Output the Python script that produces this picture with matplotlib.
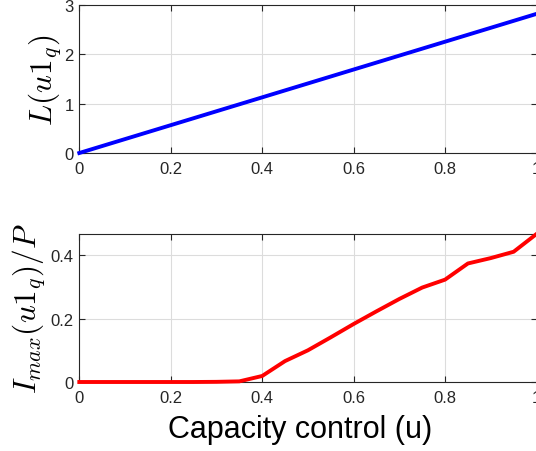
import numpy as np
import matplotlib
matplotlib.use('Agg')
from matplotlib import pyplot as plt

plt.rcParams['font.family'] = ['Liberation Sans', 'DejaVu Sans']
plt.rcParams['mathtext.fontset'] = 'cm'

# capacity control values
u = [0.0, 0.05, 0.1, 0.15, 0.2, 0.25, 0.3, 0.35, 0.4, 0.45, 0.5,
     0.55, 0.6, 0.65, 0.7, 0.75, 0.8, 0.85, 0.9, 0.95, 1.0]
# L(u 1_q)
L_u = [0.0, 0.141, 0.282, 0.423, 0.564, 0.705, 0.846, 0.987, 1.128, 1.269, 1.41,
       1.551, 1.692, 1.833, 1.974, 2.115, 2.256, 2.397, 2.538, 2.679, 2.82]
# I_max(u 1_q) / P
I_max = [0.0, 0.0, 0.0, 0.0, 0.0, 0.0, 0.0005, 0.002, 0.019, 0.066, 0.1,
         0.141, 0.183, 0.223, 0.262, 0.298, 0.323, 0.374, 0.391, 0.411, 0.467]

xticks = [0, 0.2, 0.4, 0.6, 0.8, 1]
xticklabels = ['0', '0.2', '0.4', '0.6', '0.8', '1']

W, H = 536, 452
fig = plt.figure(figsize=(W/100, H/100), dpi=100)
left, right = 79.3, 536.5
ax1 = fig.add_axes([left/W, 1 - 154/H, (right - left)/W, 148/H])
ax2 = fig.add_axes([left/W, 1 - 383/H, (right - left)/W, 148/H])

def style(ax):
    ax.set_xlim(0, 1)
    ax.set_xticks(xticks)
    ax.set_xticklabels(xticklabels)
    ax.grid(True, color='#dcdcdc', linewidth=0.8)
    ax.set_axisbelow(True)
    ax.tick_params(direction='in', top=True, right=True, labelsize=12,
                   colors='#262626', length=4, width=0.8)
    ax.tick_params(axis='x', pad=6)
    ax.tick_params(axis='y', pad=4)
    for s in ax.spines.values():
        s.set_color('#262626')
        s.set_linewidth(0.8)

ax1.plot(u, L_u, color='blue', lw=2.8, clip_on=False, zorder=3)
ax1.set_ylim(0, 3)
ax1.set_yticks([0, 1, 2, 3])
ax1.set_ylabel(r'$L(u\mathbf{1}_q)$', fontsize=22.5, labelpad=0.5)
style(ax1)

ax2.plot(u, I_max, color='red', lw=2.8, clip_on=False, zorder=3)
ax2.set_ylim(0, max(I_max))
ax2.set_yticks([0, 0.2, 0.4])
ax2.set_yticklabels(['0', '0.2', '0.4'])
ax2.set_ylabel(r'$I_{max}(u\mathbf{1}_q)/P$', fontsize=22.5, labelpad=2)
ax2.set_xlabel('Capacity control (u)', fontsize=22, labelpad=6)
ax2.xaxis.label.set_x(0.484)
style(ax2)

fig.savefig('out.png', dpi=100)
